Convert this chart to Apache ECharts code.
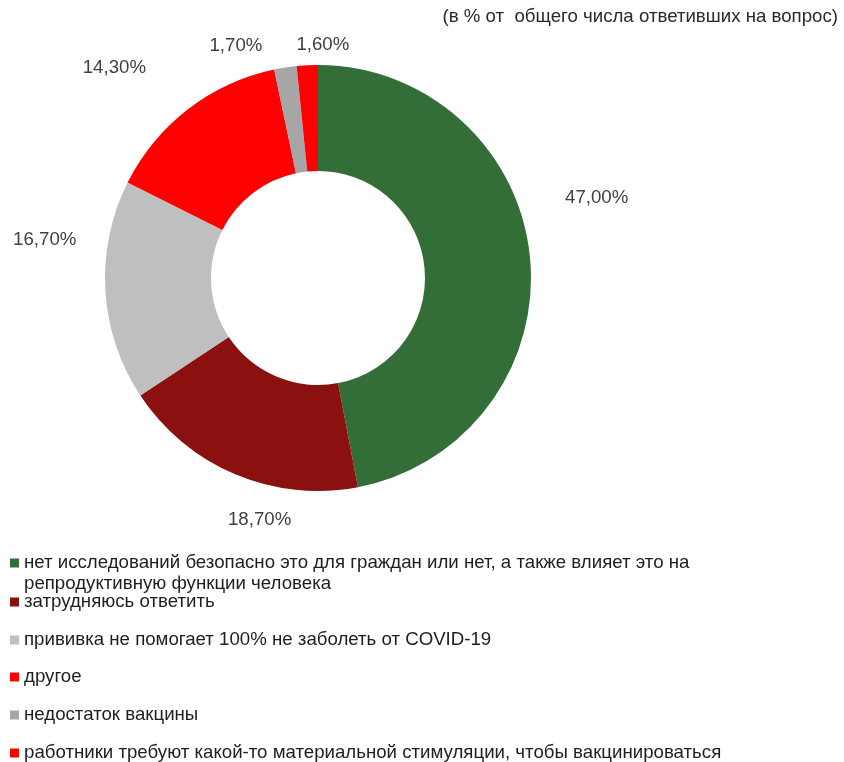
<!DOCTYPE html>
<html>
<head>
<meta charset="utf-8">
<script src="https://cdn.jsdelivr.net/npm/echarts@6/dist/echarts.min.js"></script>
<style>html,body{margin:0;padding:0;background:#fff;}#chart{width:844px;height:762px;}</style>
</head>
<body>
<div id="chart"></div>
<script>
const subtitle = '(в % от  общего числа ответивших на вопрос)';
const categories = [
  'нет исследований безопасно это для граждан или нет, а также влияет это на репродуктивную функции человека',
  'затрудняюсь ответить',
  'прививка не помогает 100% не заболеть от COVID-19',
  'другое',
  'недостаток вакцины',
  'работники требуют какой-то материальной стимуляции, чтобы вакцинироваться'
];
const values = [47.0, 18.7, 16.7, 14.3, 1.7, 1.6];

// styling
const colors = ['#336E38', '#8B1111', '#BFBFBF', '#FF0000', '#A6A6A6', '#FF0000'];
const labelShift = [[35, -60], [56, 46], [-29, -51], [-42, -41], [-23, -22], [42, -20]];
const legendCenters = [563, 602, 640, 677, 715, 753];
const FONT = "'Liberation Sans', Arial, sans-serif";
const FS = 18.67;

// wrap long legend text onto lines no wider than maxW (px)
const measureCtx = document.createElement('canvas').getContext('2d');
measureCtx.font = FS + 'px ' + FONT;
function wrapText(text, maxW) {
  const words = text.split(' ');
  const lines = [];
  let cur = '';
  words.forEach(w => {
    const t = cur ? cur + ' ' + w : w;
    if (cur && measureCtx.measureText(t).width > maxW) { lines.push(cur); cur = w; }
    else cur = t;
  });
  if (cur) lines.push(cur);
  return lines.join('\n');
}

const chart = echarts.init(document.getElementById('chart'));

const legends = categories.map((name, i) => {
  const first = i === 0;
  return {
    orient: 'vertical',
    left: 10,
    top: first ? legendCenters[i] - 10.25 : legendCenters[i] - 10,
    padding: 0,
    itemWidth: 9,
    itemHeight: first ? 29.5 : 9,
    itemGap: 0,
    icon: first ? 'path://M0,0L9,0L9,9L0,9Z M0,29.5L9,29.5' : 'rect',
    selectedMode: false,
    data: [name],
    formatter: first ? (n => wrapText(n, 700)) : '{name}',
    textStyle: {
      fontFamily: FONT,
      fontSize: FS,
      color: '#1e1e1e',
      lineHeight: first ? 20.5 : 20
    }
  };
});

chart.setOption({
  animation: false,
  color: colors,
  title: {
    text: subtitle,
    right: 6,
    top: 7,
    padding: 0,
    textStyle: { fontFamily: FONT, fontSize: FS, lineHeight: 20, fontWeight: 'normal', color: '#2a2a2a' }
  },
  legend: legends,
  series: [{
    type: 'pie',
    center: [318, 278],
    radius: [107, 213],
    startAngle: 90,
    clockwise: true,
    avoidLabelOverlap: false,
    emphasis: { disabled: true },
    itemStyle: { borderWidth: 0 },
    label: {
      show: true,
      position: 'outside',
      distanceToLabelLine: 0,
      fontFamily: FONT,
      fontSize: FS,
      color: '#404040',
      formatter: p => p.value.toFixed(2).replace('.', ',') + '%'
    },
    labelLine: { show: false, length: 0, length2: 0 },
    labelLayout: p => ({ dx: labelShift[p.dataIndex][0], dy: labelShift[p.dataIndex][1] }),
    data: categories.map((name, i) => ({ name: name, value: values[i] }))
  }]
});
</script>
</body>
</html>
